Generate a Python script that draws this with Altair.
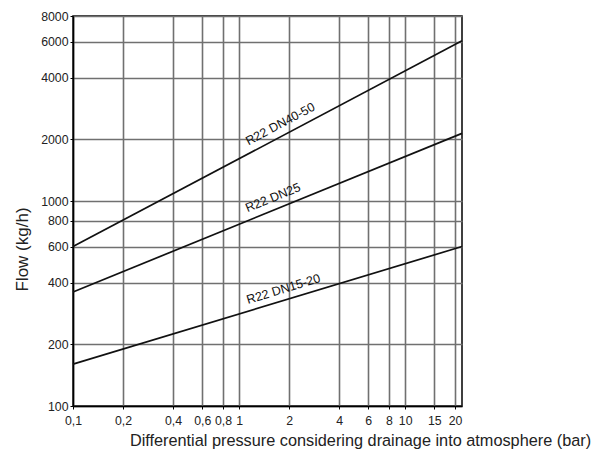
import altair as alt
import pandas as pd

# ---- data ----
x_ticks = [0.1, 0.2, 0.4, 0.6, 0.8, 1, 2, 4, 6, 8, 10, 15, 20]
y_ticks = [100, 200, 400, 600, 800, 1000, 2000, 4000, 6000, 8000]

series = ["R22 DN40-50", "R22 DN25", "R22 DN15-20"]
x_start = [0.1, 0.1, 0.1]
x_end = [22, 22, 22]
y_start = [600, 360, 160]
y_end = [6050, 2140, 600]

label_x = [1.77, 1.60, 1.85]
label_y = [2377, 1039, 372]

FONT = "Liberation Sans, Arial, sans-serif"

rows = []
for s, xa, xb, ya, yb in zip(series, x_start, x_end, y_start, y_end):
    rows.append({"series": s, "x": xa, "y": ya})
    rows.append({"series": s, "x": xb, "y": yb})
lines_df = pd.DataFrame(rows)

xscale = alt.Scale(type="log", domain=[0.1, 22], nice=False)
yscale = alt.Scale(type="log", domain=[100, 8000], nice=False)

xaxis = alt.Axis(
    values=x_ticks,
    labelExpr="replace(format(datum.value, '~g'), '.', ',')",
    title="Differential pressure considering drainage into atmosphere (bar)",
    titleX=287, titleY=39, titleBaseline="alphabetic", titleAlign="center",
    titleFontSize=16.3, titleFontWeight="normal", titleColor="#222",
    labelFontSize=12.3, labelColor="#222", labelPadding=5, tickSize=3,
    tickColor="#000", domainColor="#000", domainWidth=1.5,
    grid=True, gridColor="#707070", gridWidth=1.6, labelFlush=False,
)
yaxis = alt.Axis(
    values=y_ticks, format="d",
    title="Flow (kg/h)",
    titleX=-51, titleY=233, titleBaseline="middle", titleAlign="center", titleAngle=270,
    titleFontSize=17, titleFontWeight="normal", titleColor="#222",
    labelFontSize=12.3, labelColor="#222", labelPadding=2, tickSize=3,
    tickColor="#000", domainColor="#000", domainWidth=1.5,
    grid=True, gridColor="#707070", gridWidth=1.6, labelFlush=False,
)

lines = alt.Chart(lines_df).mark_line(color="#111", strokeWidth=1.7).encode(
    x=alt.X("x:Q", scale=xscale, axis=xaxis),
    y=alt.Y("y:Q", scale=yscale, axis=yaxis),
    detail="series:N",
)

angles = [332, 338, 343]
layers = [lines]
for s, lx, ly, a in zip(series, label_x, label_y, angles):
    df = pd.DataFrame({"label": [s], "x": [lx], "y": [ly]})
    layers.append(
        alt.Chart(df).mark_text(
            angle=a, font=FONT, fontSize=12.5, color="#111",
            align="center", baseline="middle",
        ).encode(
            x=alt.X("x:Q", scale=xscale, axis=xaxis),
            y=alt.Y("y:Q", scale=yscale, axis=yaxis),
            text="label:N",
        )
    )

chart = alt.layer(*layers).properties(
    width=389, height=390,
    autosize=alt.AutoSizeParams(type="none"),
    padding={"left": 65, "top": 8, "right": 131, "bottom": 46},
).configure(
    font=FONT,
).configure_view(
    stroke="#000", strokeWidth=1.5,
)

chart.save("out.html", embed_options={"renderer": "svg", "actions": False})
